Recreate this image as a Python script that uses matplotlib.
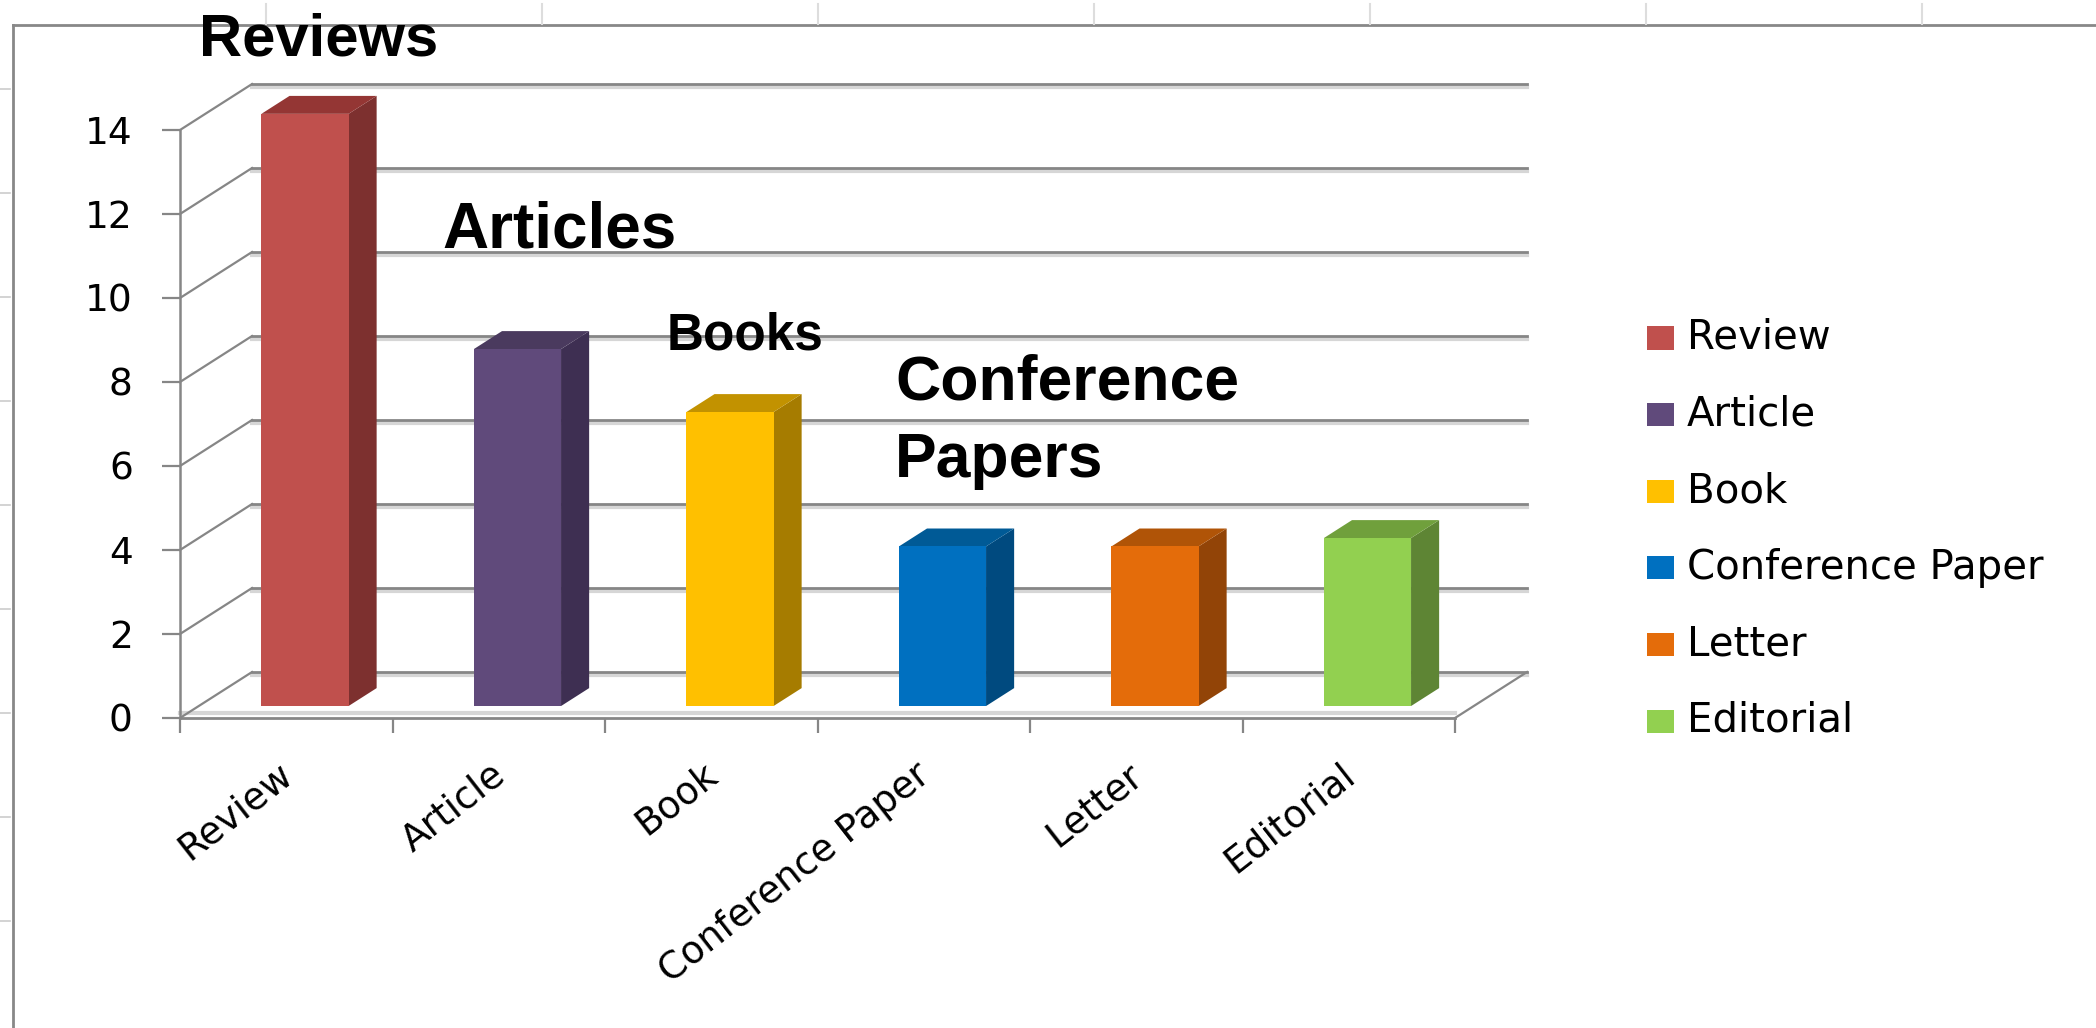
import matplotlib
matplotlib.use("Agg")
from matplotlib import pyplot as plt
from matplotlib.patches import Polygon, Rectangle
from matplotlib.lines import Line2D

# data
categories = ['Review', 'Article', 'Book', 'Conference Paper', 'Letter', 'Editorial']
values = [14.1, 8.5, 7.0, 3.8, 3.8, 4.0]
front_colors = ['#C0504D', '#604A7B', '#FFC000', '#0070C0', '#E46C0A', '#92D050']
side_colors = ['#7D302F', '#3E2F52', '#A67C00', '#004A7F', '#924407', '#5E8534']
top_colors = ['#943634', '#4A3A5E', '#C29200', '#005A96', '#B05407', '#70A03C']
yticks = [0, 2, 4, 6, 8, 10, 12, 14]
callouts = [('Reviews', 43), ('Articles', 46), ('Books', 37), ('Conference\nPapers', 45)]

W, H = 2096, 1028
fig = plt.figure(figsize=(W / 100, H / 100), dpi=100)
fig.patch.set_facecolor('white')

def fp(x, y):
	# pixel position (from top-left) -> figure fraction
	return x / W, 1 - y / H

# axes frame: front floor runs 180..1455 px, value 0..14 runs 718..130 px
ax = fig.add_axes([180 / W, (H - 718) / H, 1275 / W, 588 / H])
ax.set_xlim(0, len(categories))
ax.set_ylim(0, 14)
ax.patch.set_visible(False)

grid_dark = '#868686'
grid_light = '#d6d6d6'
DX, DY = 0.339, 1.095     # 3d depth offset in data units
f0, f1 = 0.26, 0.65       # bar depth span
hw = 0.205

n = len(categories)
# back wall gridlines + side wall diagonals
for v in yticks:
	ax.plot([DX, n + DX], [v + DY - 0.07, v + DY - 0.07], color=grid_light, lw=3, clip_on=False, zorder=1)
	ax.plot([DX, n + DX], [v + DY, v + DY], color=grid_dark, lw=2, clip_on=False, zorder=2)
	ax.plot([0, DX], [v, v + DY], color=grid_dark, lw=1.6, clip_on=False, zorder=2)
# floor
ax.plot([0, n], [0.12, 0.12], color=grid_light, lw=3, clip_on=False, zorder=1)
ax.plot([n, n + DX], [0, DY], color=grid_dark, lw=1.6, clip_on=False, zorder=2)

# bars
for i, v in enumerate(values):
	c = i + 0.5
	xl0, xr0 = c - hw + f0 * DX, c + hw + f0 * DX
	xl1, xr1 = c - hw + f1 * DX, c + hw + f1 * DX
	b0, b1 = f0 * DY, f1 * DY
	front = Polygon([(xl0, b0), (xr0, b0), (xr0, v + b0), (xl0, v + b0)], closed=True,
		facecolor=front_colors[i], edgecolor='none', zorder=5, clip_on=False)
	side = Polygon([(xr0, b0), (xr1, b1), (xr1, v + b1), (xr0, v + b0)], closed=True,
		facecolor=side_colors[i], edgecolor='none', zorder=4, clip_on=False)
	top = Polygon([(xl0, v + b0), (xr0, v + b0), (xr1, v + b1), (xl1, v + b1)], closed=True,
		facecolor=top_colors[i], edgecolor='none', zorder=4, clip_on=False)
	ax.add_patch(side)
	ax.add_patch(top)
	ax.add_patch(front)

# axes: front y axis and front floor line
for s in ['top', 'right']:
	ax.spines[s].set_visible(False)
ax.spines['left'].set_color(grid_dark)
ax.spines['left'].set_linewidth(1.8)
ax.spines['bottom'].set_color(grid_dark)
ax.spines['bottom'].set_linewidth(2)
ax.set_yticks(yticks)
ax.set_yticklabels([str(t) for t in yticks], fontsize=27, family='DejaVu Sans')
ax.tick_params(axis='y', length=13, width=1.6, color=grid_dark, pad=21)
ax.set_xticks(range(n + 1))
ax.set_xticklabels([''] * (n + 1))
ax.tick_params(axis='x', which='major', length=11, width=1.6, color=grid_dark, direction='out')
ax.set_xticks([i + 0.51 for i in range(n)], minor=True)
ax.set_xticklabels(categories, minor=True, fontsize=27, family='DejaVu Sans')
ax.tick_params(axis='x', which='minor', length=0, pad=38)
for lab in ax.get_xticklabels(minor=True):
	lab.set_rotation(38)
	lab.set_ha('right')
	lab.set_va('center')
	lab.set_rotation_mode('anchor')

# bold callouts
pos = [(199, 55), (442, 247), (667, 350), (895, 400)]
for (txt, fs), (x, y) in zip(callouts, pos):
	if '\n' in txt:
		a, b = txt.split('\n')
		fig.text(*fp(x, y), a, fontsize=fs, fontweight='bold', family='Liberation Sans', va='baseline', ha='left')
		fig.text(*fp(x, y + 77), b, fontsize=fs, fontweight='bold', family='Liberation Sans', va='baseline', ha='left')
	else:
		fig.text(*fp(x, y), txt, fontsize=fs, fontweight='bold', family='Liberation Sans', va='baseline', ha='left')

# legend
for i, lab in enumerate(categories):
	yc = 338 + 76.6 * i
	x0, y0 = fp(1647, yc + 11.5)
	fig.patches.append(Rectangle((x0, y0), 27 / W, 23 / H, transform=fig.transFigure,
		facecolor=front_colors[i], edgecolor='none'))
	fig.text(*fp(1687, yc), lab, fontsize=29, family='DejaVu Sans', va='center', ha='left')

# chart border and sheet remnants
fig.add_artist(Line2D([13 / W, 1], [1 - 25 / H, 1 - 25 / H], transform=fig.transFigure, color='#888888', lw=2))
fig.add_artist(Line2D([13 / W, 13 / W], [0, 1 - 25 / H], transform=fig.transFigure, color='#888888', lw=2))
for k in range(7):
	x = (266 + 276 * k) / W
	fig.add_artist(Line2D([x, x], [1 - 4 / H, 1 - 24 / H], transform=fig.transFigure, color='#dddddd', lw=1.5))
for k in range(9):
	y = 1 - (89 + 104 * k) / H
	fig.add_artist(Line2D([0, 10 / W], [y, y], transform=fig.transFigure, color='#cccccc', lw=1.2))

fig.savefig('out.png', dpi=100, facecolor='white')
